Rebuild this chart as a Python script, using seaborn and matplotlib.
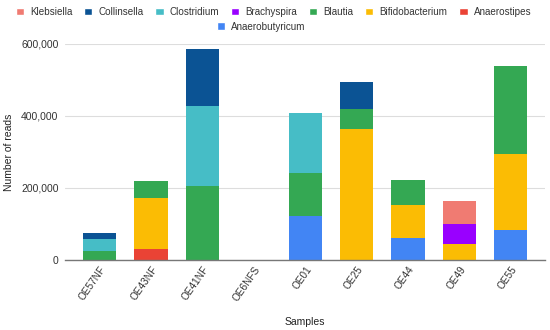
import pandas as pd
import matplotlib
matplotlib.use("Agg")
import matplotlib.pyplot as plt
from matplotlib.patches import Patch
from matplotlib.ticker import FuncFormatter
import seaborn as sns

samples = ["OE57NF", "OE43NF", "OE41NF", "OE6NFS", "OE01", "OE25", "OE44", "OE49", "OE55"]

# stacking order, bottom to top
anaerobutyricum = [0, 0, 0, 0, 123000, 0, 61000, 0, 82000]
anaerostipes = [0, 31000, 0, 0, 0, 0, 0, 0, 0]
bifidobacterium = [0, 140000, 0, 0, 0, 363000, 92000, 45000, 212000]
blautia = [25000, 48000, 205000, 0, 118000, 55000, 70000, 0, 246000]
brachyspira = [0, 0, 0, 0, 0, 0, 0, 55000, 0]
clostridium = [32500, 0, 222000, 0, 168000, 0, 0, 0, 0]
collinsella = [17000, 0, 160000, 0, 0, 75000, 0, 0, 0]
klebsiella = [0, 0, 0, 0, 0, 0, 0, 63000, 0]

genera = ["Anaerobutyricum", "Anaerostipes", "Bifidobacterium", "Blautia",
          "Brachyspira", "Clostridium", "Collinsella", "Klebsiella"]
colors = ["#4285F4", "#EA4335", "#FBBC04", "#34A853",
          "#9900FF", "#46BDC6", "#0B5394", "#F07B72"]

df = pd.DataFrame({
    "Anaerobutyricum": anaerobutyricum,
    "Anaerostipes": anaerostipes,
    "Bifidobacterium": bifidobacterium,
    "Blautia": blautia,
    "Brachyspira": brachyspira,
    "Clostridium": clostridium,
    "Collinsella": collinsella,
    "Klebsiella": klebsiella,
}, index=samples)
cum = df.cumsum(axis=1)

sns.set_style("white")
plt.rcParams["font.family"] = ["Liberation Sans", "DejaVu Sans"]

fig = plt.figure(figsize=(5.5, 3.3), dpi=100)
ax = fig.add_axes([0.119, 0.212, 0.872, 0.655])

# draw cumulative totals from the top layer down so lower layers overlay
for g, c in reversed(list(zip(genera, colors))):
    sns.barplot(x=samples, y=cum[g].values, color=c, width=0.65,
                linewidth=0, saturation=1, ax=ax)

ax.set_ylim(0, 600000)
ax.set_xlim(-0.667, 8.667)
ax.set_yticks([0, 200000, 400000, 600000])
ax.yaxis.set_major_formatter(FuncFormatter(lambda v, p: f"{int(v):,}"))
ax.grid(axis="y", color="#DDDDDD", linewidth=0.8)
ax.set_axisbelow(True)
for s in ["top", "right", "left"]:
    ax.spines[s].set_visible(False)
ax.spines["bottom"].set_color("#777777")
ax.spines["bottom"].set_linewidth(1)
ax.tick_params(axis="y", length=0, labelsize=7.5, colors="#333333", pad=5)
ax.tick_params(axis="x", length=0, labelsize=7.2, colors="#333333", pad=3)
plt.setp(ax.get_xticklabels(), rotation=55, ha="right", rotation_mode="anchor")
ax.set_xlabel("Samples", fontsize=7.5, color="#222222", labelpad=10)
ax.set_ylabel("Number of reads", fontsize=7.5, color="#222222", labelpad=5)

# legend: first row of seven, second row centred
rev = list(zip(genera, colors))[::-1]
h1 = [Patch(facecolor=c, label=g) for g, c in rev[:7]]
h2 = [Patch(facecolor=c, label=g) for g, c in rev[7:]]
kw = dict(frameon=False, fontsize=7.1, handlelength=0.85, handleheight=0.85,
          handletextpad=0.6, columnspacing=1.2, labelcolor="#333333",
          borderpad=0.2)
fig.legend(handles=h1, ncol=7, loc="upper center", bbox_to_anchor=(0.497, 1.0), **kw)
fig.legend(handles=h2, ncol=1, loc="upper center", bbox_to_anchor=(0.475, 0.955), **kw)

fig.savefig("out.png", dpi=100)
